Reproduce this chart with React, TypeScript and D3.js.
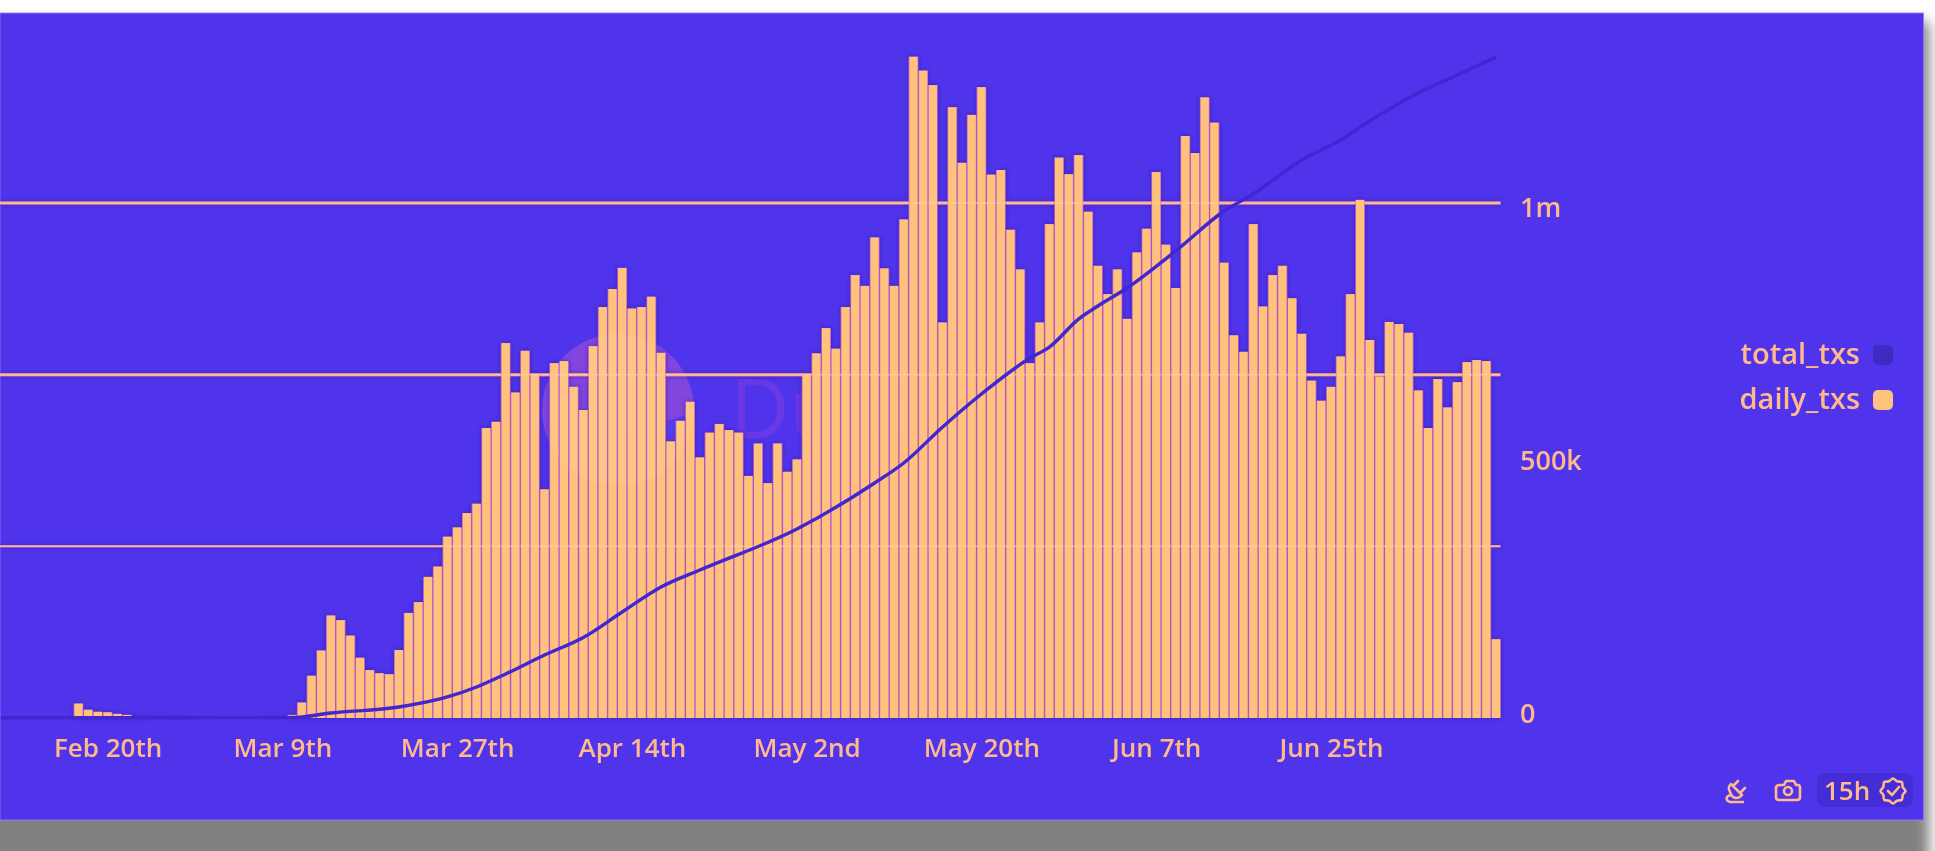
import React, { useEffect, useRef } from 'react';
import * as d3 from 'd3';

const WIDTH = 1935;
const HEIGHT = 851;
const FONT = "'Open Sans', 'Noto Sans', sans-serif";
const BG = '#5034ec';
const BAR = '#ffc27c';
const TEXT = '#ffb98a';
const GRID = '#ffa58c';
const GAP = '#c65fc8';
const DARK = '#3f2ac4';

// first bar of dailyTxs, thousands per day from here on
const dailyStart = new Date(2020, 1, 17);
const dailyTxs = [
  28, 16, 12, 11, 8, 6, 3, 2, 1, 1, 1, 1, 0, 0, 0, 0, 0, 0, 0, 0, 1, 1, 6,
  30, 82, 131, 199, 190, 160, 117, 93, 87, 85, 132, 204, 225, 274, 294, 352, 370, 398, 416, 563, 575,
  728, 632, 713, 668, 444, 689, 693, 643, 598, 722, 798, 833, 874, 795, 798, 818, 709, 537, 577, 614,
  506, 554, 571, 559, 554, 470, 533, 456, 533, 478,
  502, 666, 708, 757, 717, 798, 860, 839, 933, 873, 839, 968, 1284, 1257, 1229, 768, 1186, 1078, 1171, 1225,
  1055, 1064, 948, 871, 689, 768, 959, 1088, 1056, 1093, 983,
  878, 823, 871, 775, 904, 950, 1060, 919, 835, 1130, 1097, 1205, 1156, 884, 743, 711, 959, 799, 860, 878,
  815, 746, 655, 616, 643, 702, 823, 1006, 734, 663,
  769, 765, 748, 636, 563, 658, 603, 652, 691, 695, 693, 153,
];

// cumulative line, millions, read at these dates
const totalDates = [
  [1, 9], [2, 10], [2, 14], [2, 21], [2, 26], [2, 29], [3, 1], [3, 5], [3, 9], [3, 13], [3, 17], [3, 21],
  [4, 1], [4, 9], [4, 12], [4, 16], [4, 20], [4, 25], [4, 27], [4, 30], [5, 1], [5, 4], [5, 9], [5, 14],
  [5, 17], [5, 22], [5, 26], [5, 29], [6, 4], [6, 8], [6, 12],
].map(([m, d]) => new Date(2020, m, d));
const totalTxs = [
  0.02, 0.05, 0.58, 1.28, 2.45, 3.61, 5.13, 7.34, 9.38, 12.35, 15.26, 17.24,
  22.02, 27.38, 29.71, 33.9, 37.75, 41.94, 43.22, 46.48, 48.0, 50.1, 54.41, 59.07,
  61.05, 65.0, 67.34, 69.55, 72.81, 74.91, 77.0,
];

const xTicks = [
  new Date(2020, 1, 20), new Date(2020, 2, 9), new Date(2020, 2, 27), new Date(2020, 3, 14),
  new Date(2020, 4, 2), new Date(2020, 4, 20), new Date(2020, 5, 7), new Date(2020, 5, 25),
];
const xLabels = ['Feb 20th', 'Mar 9th', 'Mar 27th', 'Apr 14th', 'May 2nd', 'May 20th', 'Jun 7th', 'Jun 25th'];
const yTicks = [0, 500, 1000];
const yLabels = ['0', '500k', '1m'];
const yNudge = [-5, 0, 4];
const totalGrid = [20, 40, 60];
const legendNames = ['total_txs', 'daily_txs'];
const legendColors = [DARK, BAR];

function App() {
  const ref = useRef<SVGSVGElement>(null);

  useEffect(() => {
    const svg = d3.select(ref.current);
    svg.selectAll('*').remove();

    const x = d3.scaleTime()
      .domain([new Date(2020, 1, 20), new Date(2020, 6, 12)])
      .range([107.6, 1496]);
    const y = d3.scaleLinear().domain([0, 1000]).range([718, 203]);
    const yTotal = d3.scaleLinear().domain([0, 60]).range([718, 203]);
    const step = x(new Date(2020, 1, 21)) - x(new Date(2020, 1, 20));

    const defs = svg.append('defs');
    const shadow = defs.append('filter').attr('id', 'panelShadow')
      .attr('x', '-5%').attr('y', '-5%').attr('width', '110%').attr('height', '115%');
    shadow.append('feGaussianBlur').attr('stdDeviation', 7);
    const halo = defs.append('filter').attr('id', 'halo')
      .attr('x', '-2%').attr('y', '-2%').attr('width', '104%').attr('height', '104%');
    halo.append('feDropShadow').attr('dx', 0).attr('dy', 0).attr('stdDeviation', 2.2)
      .attr('flood-color', '#2c1a9c').attr('flood-opacity', 0.85);
    const soft = defs.append('filter').attr('id', 'soft')
      .attr('x', '-5%').attr('y', '-5%').attr('width', '110%').attr('height', '110%');
    soft.append('feGaussianBlur').attr('stdDeviation', 0.55);
    defs.append('clipPath').attr('id', 'plotClip').append('rect')
      .attr('x', 0).attr('y', 13).attr('width', 1923).attr('height', 807);
    defs.append('clipPath').attr('id', 'logoTop').append('path')
      .attr('d', 'M530,330 L710,330 L710,408 L530,462 Z');

    // page and panel
    svg.append('rect').attr('width', WIDTH).attr('height', HEIGHT).attr('fill', '#ffffff');
    svg.append('rect').attr('x', -40).attr('y', 22).attr('width', 1969).attr('height', 880)
      .attr('fill', '#808080').attr('filter', 'url(#panelShadow)');
    svg.append('rect').attr('x', 0).attr('y', 13).attr('width', 1923.5).attr('height', 807)
      .attr('fill', BG).attr('stroke', '#8f7ff0').attr('stroke-width', 0.8);

    const plot = svg.append('g').attr('clip-path', 'url(#plotClip)');

    // watermark, under the bars
    plot.append('circle').attr('cx', 618).attr('cy', 410).attr('r', 76)
      .attr('fill', '#7c3bdc').attr('clip-path', 'url(#logoTop)');
    plot.append('text').attr('x', 730).attr('y', 438)
      .attr('font-family', FONT).attr('font-size', 82).attr('font-weight', 500)
      .attr('fill', '#6a38e4').text('Dune');

    const chart = plot.append('g').attr('filter', 'url(#soft)');

    const marks = chart.append('g').attr('filter', 'url(#halo)');

    marks.append('g').selectAll('line')
      .data(totalGrid)
      .enter()
      .append('line')
      .attr('x1', 0)
      .attr('x2', 1500.5)
      .attr('y1', d => yTotal(d))
      .attr('y2', d => yTotal(d))
      .attr('stroke', GRID)
      .attr('stroke-width', (d, i) => (i === 0 ? 2 : 3));

    marks.append('g').selectAll('rect')
      .data(dailyTxs)
      .enter()
      .append('rect')
      .attr('x', (d, i) => x(d3.timeDay.offset(dailyStart, i)) - step / 2)
      .attr('width', step)
      .attr('y', d => y(d))
      .attr('height', d => y(0) - y(d))
      .attr('fill', GAP);

    // the bars proper, narrower than the backing so a pink seam shows
    chart.append('g').selectAll('rect')
      .data(dailyTxs)
      .enter()
      .append('rect')
      .attr('x', (d, i) => x(d3.timeDay.offset(dailyStart, i)) - step / 2 + 0.75)
      .attr('width', step - 1.5)
      .attr('y', d => y(d))
      .attr('height', d => y(0) - y(d))
      .attr('fill', BAR);

    // gridlines show faintly through the bars
    chart.append('g').selectAll('line')
      .data(totalGrid)
      .enter()
      .append('line')
      .attr('x1', 0)
      .attr('x2', 1500.5)
      .attr('y1', d => yTotal(d))
      .attr('y2', d => yTotal(d))
      .attr('stroke', '#ffe3c0')
      .attr('stroke-opacity', 0.35)
      .attr('stroke-width', 1.5);

    const lineGenerator = d3.line<number>()
      .x((d, i) => x(totalDates[i]))
      .y(d => yTotal(d))
      .curve(d3.curveMonotoneX);

    chart.append('path')
      .attr('d', lineGenerator(totalTxs))
      .attr('fill', 'none')
      .attr('stroke', '#4225d0')
      .attr('stroke-width', 3.4);

    // watermark, over the bars
    plot.append('circle').attr('cx', 618).attr('cy', 410).attr('r', 76)
      .attr('fill', '#ffffff').attr('fill-opacity', 0.05);

    // axes
    const xAxis = d3.axisBottom(x)
      .tickValues(xTicks)
      .tickSize(0)
      .tickPadding(0)
      .tickFormat((d, i) => xLabels[i]);
    const xGroup = svg.append('g').attr('transform', 'translate(0,757)').attr('filter', 'url(#soft)').call(xAxis);
    xGroup.select('.domain').remove();
    xGroup.selectAll('text')
      .attr('y', 0)
      .attr('dy', 0)
      .attr('fill', TEXT)
      .attr('font-family', FONT)
      .attr('font-weight', 600)
      .attr('font-size', 26);

    const yAxis = d3.axisRight(y)
      .tickValues(yTicks)
      .tickSize(0)
      .tickPadding(0)
      .tickFormat((d, i) => yLabels[i]);
    const yGroup = svg.append('g').attr('transform', 'translate(1520,0)').attr('filter', 'url(#soft)').call(yAxis);
    yGroup.select('.domain').remove();
    yGroup.selectAll('text')
      .attr('dy', (d, i) => 9 + yNudge[i])
      .attr('fill', TEXT)
      .attr('font-family', FONT)
      .attr('font-weight', 600)
      .attr('font-size', 27);

    // legend
    const legendY = d3.scalePoint().domain(legendNames).range([355, 400]);
    const legend = svg.append('g').attr('filter', 'url(#soft)').selectAll('g')
      .data(legendNames)
      .enter()
      .append('g')
      .attr('transform', d => `translate(0,${legendY(d)})`);
    legend.append('rect')
      .attr('x', 1873)
      .attr('y', -10)
      .attr('width', 20)
      .attr('height', 20)
      .attr('rx', 5)
      .attr('fill', (d, i) => legendColors[i]);
    legend.append('text')
      .attr('x', 1860)
      .attr('y', 9)
      .attr('text-anchor', 'end')
      .attr('fill', TEXT)
      .attr('font-family', FONT)
      .attr('font-weight', 600)
      .attr('font-size', 29)
      .text(d => d);

    // footer icons
    const icons = svg.append('g')
      .attr('fill', 'none')
      .attr('stroke', TEXT)
      .attr('stroke-width', 2.6)
      .attr('stroke-linecap', 'round')
      .attr('stroke-linejoin', 'round');
    icons.append('path')
      .attr('d', 'M1738,781 L1733,786 M1745,788 L1740,793 M1731,784 L1742,795 C1738,800 1732,798 1731,794 C1729,790 1727,787 1731,784 Z M1731,795 C1724,796 1726,803 1733,802 L1743,802');
    icons.append('path')
      .attr('d', 'M1780,785 L1784,785 L1786,781 L1794,781 L1796,785 L1798,785 Q1800,785 1800,788 L1800,797 Q1800,800 1797,800 L1779,800 Q1776,800 1776,797 L1776,788 Q1776,785 1780,785 Z');
    icons.append('circle').attr('cx', 1788).attr('cy', 791).attr('r', 4);
    svg.append('rect').attr('x', 1817).attr('y', 773).attr('width', 96).attr('height', 34).attr('rx', 8)
      .attr('fill', '#452dd6');
    svg.append('text').attr('x', 1824).attr('y', 800).attr('filter', 'url(#soft)')
      .attr('fill', TEXT).attr('font-family', FONT).attr('font-weight', 600).attr('font-size', 26).text('15h');
    const badge = d3.range(16).map(i => {
      const r = i % 2 === 0 ? 12.5 : 10.5;
      const a = (i / 16) * 2 * Math.PI;
      return [1893 + r * Math.cos(a), 791 + r * Math.sin(a)] as [number, number];
    });
    const badgeGroup = svg.append('g')
      .attr('fill', 'none')
      .attr('stroke', TEXT)
      .attr('stroke-width', 2.6)
      .attr('stroke-linecap', 'round')
      .attr('stroke-linejoin', 'round');
    badgeGroup.append('path').attr('d', d3.line().curve(d3.curveCardinalClosed)(badge));
    badgeGroup.append('path').attr('d', 'M1888,791 L1892,795 L1899,787');
  }, []);

  return (
    <svg
      ref={ref}
      width={WIDTH}
      height={HEIGHT}
      style={{ position: 'absolute', left: 0, top: 0, display: 'block' }}
    />
  );
}

export default App;
